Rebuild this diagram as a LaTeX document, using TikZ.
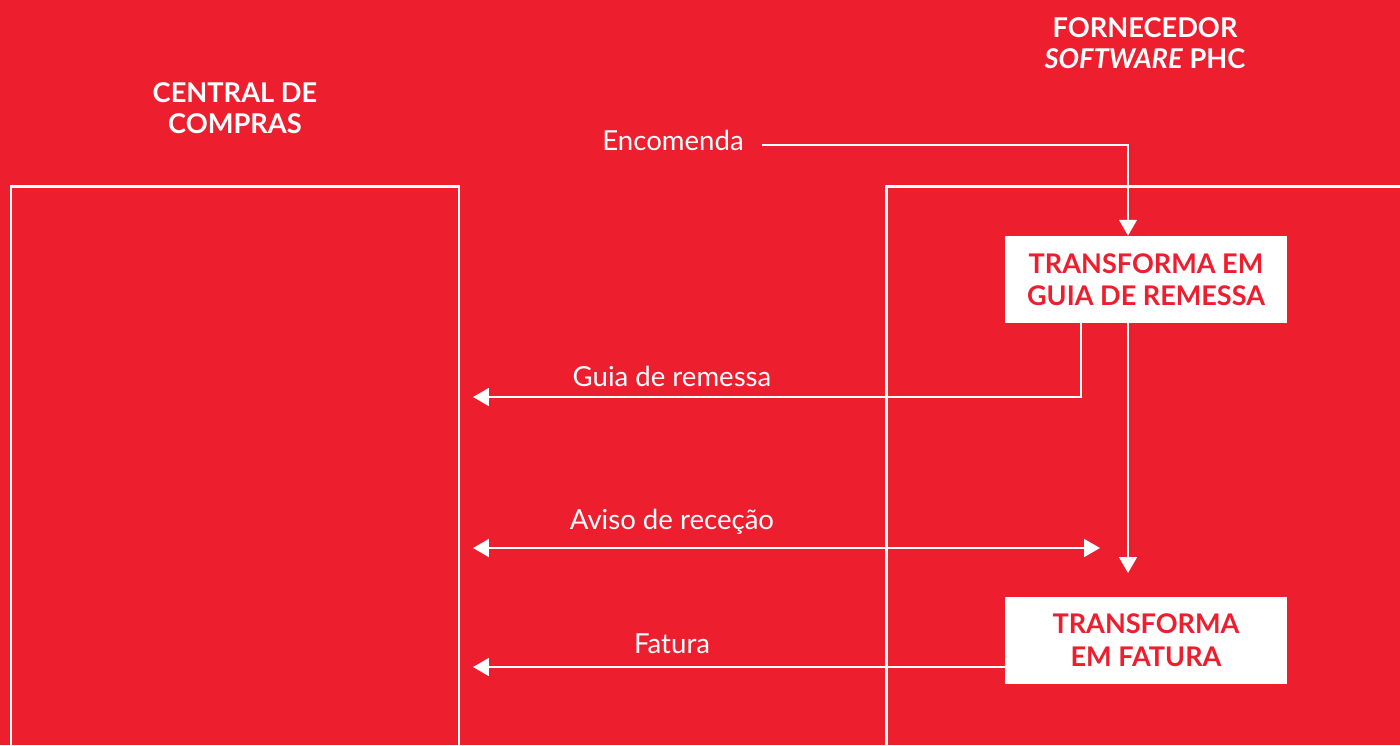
\documentclass[tikz,border=0pt]{standalone}
\usepackage{fontspec}
\setmainfont{Lato}
\usetikzlibrary{positioning}
\usetikzlibrary{calc}
\usetikzlibrary{arrows.meta}
\definecolor{phcred}{RGB}{237,30,46}

\tikzset{
    lane/.style={white, line width=1.7pt},
    flow/.style={white, line width=1.4pt, -{Triangle[length=9pt, width=10pt]}},
    title/.style={white, font=\fontsize{15.5}{18}\selectfont\bfseries, align=center},
    msg/.style={white, font=\fontsize{15.7}{18}\selectfont},
    stepbox/.style={fill=white, text=phcred, font=\fontsize{15.4}{18.5}\selectfont\bfseries,
        align=center, minimum width=5.64cm, minimum height=1.74cm, inner sep=0pt}
}

\begin{document}
\begin{tikzpicture}[x=0.02cm, y=-0.02cm]
    % Background
    \fill[phcred] (0, 0) rectangle (1400, 745);
    \useasboundingbox (0, 0) rectangle (1400, 745);

    % Lanes
    \draw[lane] (11, 745) -- (11, 186) -- (459, 186) -- (459, 745);
    \draw[lane] (886, 745) -- (886, 186) -- (1402, 186);
    \node[title] (central) at (235, 108) {CENTRAL DE\\COMPRAS};
    \node[title] (fornecedor) at (1145, 43) {FORNECEDOR\\\textit{SOFTWARE} PHC};

    % Steps
    \node[stepbox] (guiabox) at (1146, 279.5) {TRANSFORMA EM\\GUIA DE REMESSA};
    \node[stepbox] (faturabox) at (1146, 640) {TRANSFORMA\\EM FATURA};

    % Messages
    \node[msg] (encomenda) at (673, 140) {Encomenda};
    \node[msg] (guia) at (672, 376) {Guia de remessa};
    \node[msg] (aviso) at (672, 522) {Aviso de receção};
    \node[msg] (fatura) at (672, 644) {Fatura};

    \coordinate (guiaend) at (473, 397);
    \coordinate (avisoend) at (473, 548);
    \coordinate (avisostart) at (1100, 548);
    \coordinate (faturaend) at (473, 667);
    \coordinate (downend) at (1128, 573);

    % Arrows
    \draw[flow] ($(encomenda.east)+(12, 5)$) -| ($(guiabox.north)+(-18, 0)$);
    \draw[flow] ($(guiabox.south)+(-65, 0)$) |- (guiaend);
    \draw[flow] ($(guiabox.south)+(-18, 0)$) -- (downend);
    \draw[flow, {Triangle[length=9pt, width=10pt]}-{Triangle[length=9pt, width=10pt]}] (avisoend) -- (avisostart);
    \draw[flow] (faturabox.west |- faturaend) -- (faturaend);
\end{tikzpicture}
\end{document}
